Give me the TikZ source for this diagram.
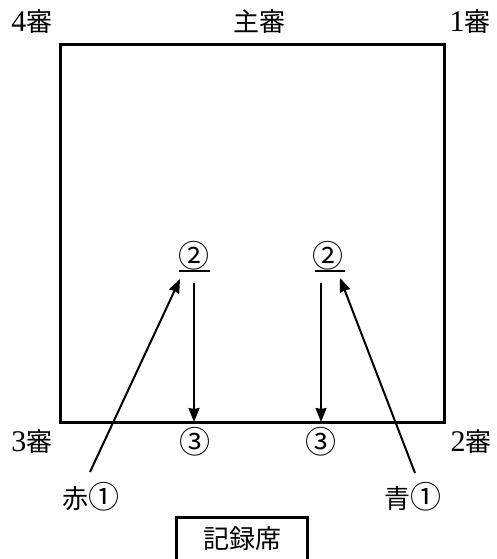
\documentclass[tikz,border=0pt]{standalone}
\usepackage{fontspec}
\newfontfamily\jp{Noto Sans CJK JP}
\newfontfamily\digitfont{Liberation Serif}
\newcommand{\dg}[1]{{\fontsize{30}{30}\digitfont #1}}
\newcommand{\cnum}[1]{{\fontsize{31}{31}\selectfont #1}}
\usetikzlibrary{arrows.meta}
\begin{document}
\begin{tikzpicture}[x=1pt,y=-1pt,
    lbl/.style={font=\fontsize{26}{28}\selectfont\jp, inner sep=0pt},
    court/.style={line width=3pt},
    move/.style={line width=2pt,-{Stealth[length=14pt,width=11pt,inset=1pt]}}]
    \useasboundingbox (0,0) rectangle (496,559);

    % court
    \draw[court] (60,45) rectangle (444,422);

    % referees
    \node[lbl] (ref4) at (32,22)  {\dg{4}審};
    \node[lbl] (main) at (259,22) {主審};
    \node[lbl] (ref1) at (470,22) {\dg{1}審};
    \node[lbl] (ref3) at (32,442) {\dg{3}審};
    \node[lbl] (ref2) at (471,442) {\dg{2}審};

    % positions
    \node[lbl] (redA)  at (91,497)  {赤\cnum{①}};
    \node[lbl] (blueA) at (413,497) {青\cnum{①}};
    \node[lbl] (redB)  at (194,256) {\cnum{②}};
    \node[lbl] (blueB) at (328,256) {\cnum{②}};
    \node[lbl] (redC)  at (195,442) {\cnum{③}};
    \node[lbl] (blueC) at (321,442) {\cnum{③}};
    \draw[line width=1.5pt] (179,271) -- (210,271);
    \draw[line width=1.5pt] (315,271) -- (345,271);

    % moves
    \coordinate (redS)  at (90,472);
    \coordinate (redT)  at (180,279);
    \coordinate (blueS) at (415,473);
    \coordinate (blueT) at (340,278);
    \draw[move] (redS) -- (redT);
    \draw[move] (blueS) -- (blueT);
    \draw[move] (194,283) -- (194,422);
    \draw[move] (321,283) -- (321,422);

    % record desk
    \draw[court] (176,517) rectangle (307,580);
    \node[lbl] (desk) at (242,539) {記録席};
\end{tikzpicture}
\end{document}
